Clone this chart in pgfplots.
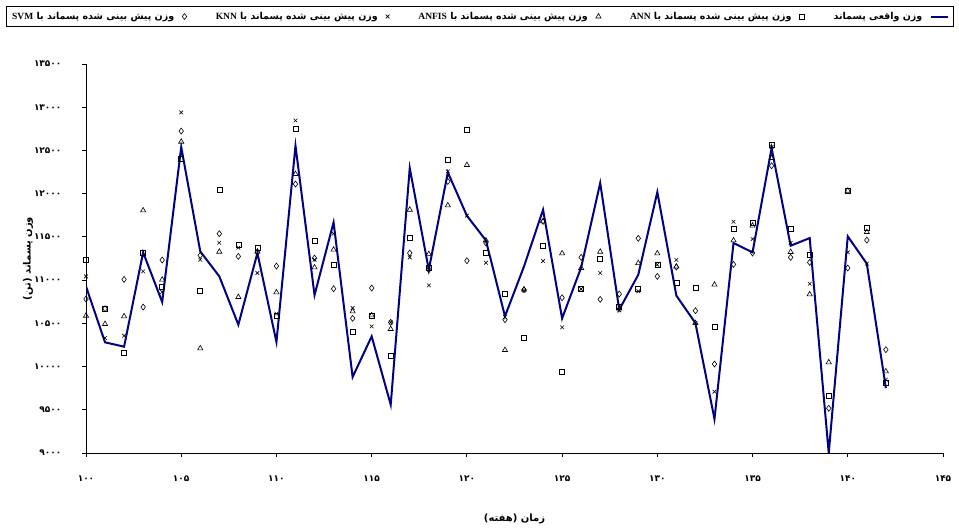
\documentclass[border=0pt]{standalone}
\usepackage{fontspec}
\usepackage{pgfplots}
\usepackage{pgfplotstable}
\pgfplotsset{compat=1.18}
\TeXXeTstate=1
\newfontfamily\fa[Script=Arabic]{DejaVu Sans}
\newfontfamily\fadig{DejaVu Sans}
\newfontfamily\lat{Liberation Serif}
\definecolor{navyline}{RGB}{0,0,128}

\pgfplotstableread{
w act ann anfis knn svm
100 10927 11232 10588 11043 10781
101 10280 10669 10492 10330 10669
102 10230 10160 10581 10357 11008
103 11321 11321 11806 11101 10688
104 10746 10927 11005 10862 11232
105 12539 12404 12601 12940 12724
106 11332 10877 10210 11236 11286
107 11043 12042 11328 11432 11537
108 10484 11405 10804 11375 11274
109 11313 11375 11330 11082 11320
110 10284 10588 10858 10611 11163
111 12554 12747 12227 12847 12111
112 10827 11456 11147 11236 11255
113 11668 11182 11352 11537 10900
114 9879 10403 10638 10677 10557
115 10349 10592 10592 10465 10908
116 9559 10122 10434 10511 10511
117 12296 11494 11814 11263 11313
118 11120 11147 11301 10939 11120
119 12246 12392 11864 12257 12142
120 11745 12735 12331 11745 11224
121 11459 11313 11459 11201 11430
122 10581 10839 10191 10573 10542
123 11159 10334 10889 10880 10889
124 11814 11402 11679 11220 11679
125 10557 9941 11309 10453 10796
126 11147 10897 11140 10897 11263
127 12123 11251 11328 11082 10777
128 10658 10688 10670 10650 10839
129 11062 10897 11197 10870 11483
130 12018 11178 11309 11178 11043
131 10820 10966 11157 11234 11150
132 10503 10908 10503 10503 10646
133 9393 10465 10947 9709 10029
134 11429 11594 11459 11675 11182
135 11321 11668 11630 11475 11313
136 12527 12562 12412 12540 12323
137 11398 11594 11325 11429 11263
138 11486 11294 10835 10958 11205
139 9000 9659 10049 nan 9517
140 11506 12034 12034 11321 11140
141 11190 11610 11556 11190 11463
142 9752 9810 9944 9848 10195
}\data

\newcommand{\legtxt}[1]{\fa\bfseries\beginR وزن پیش بینی شده پسماند با \beginL{\lat\bfseries #1}\endL\endR}

\begin{document}
\begin{tikzpicture}
\begin{axis}[
  at={(86pt,76pt)}, anchor=south west,
  scale only axis, width=857pt, height=389pt,
  xmin=100, xmax=145, ymin=9000, ymax=13500,
  scaled x ticks=false, scaled y ticks=false,
  axis lines*=left,
  axis line style={-, black, line width=0.9pt},
  tick align=outside,
  major tick length=4pt,
  tick style={black, line width=0.9pt},
  xtick={100,105,...,145},
  xticklabels={۱۰۰,۱۰۵,۱۱۰,۱۱۵,۱۲۰,۱۲۵,۱۳۰,۱۳۵,۱۴۰,۱۴۵},
  ytick={9000,9500,...,13500},
  yticklabels={۹۰۰۰,۹۵۰۰,۱۰۰۰۰,۱۰۵۰۰,۱۱۰۰۰,۱۱۵۰۰,۱۲۰۰۰,۱۲۵۰۰,۱۳۰۰۰,۱۳۵۰۰},
  ticklabel style={font=\fadig\bfseries\fontsize{9}{10}\selectfont},
  xticklabel style={yshift=-15pt},
  yticklabel style={xshift=-17pt},
  xlabel={\fa\bfseries\beginR زمان (هفته)\endR},
  ylabel={\fa\bfseries\beginR وزن پسماند (تن)\endR},
  label style={font=\fontsize{10}{12}\selectfont},
  every axis x label/.style={at={(axis description cs:0.5,-0.17)}, anchor=center},
  every axis y label/.style={at={(axis description cs:-0.0677,0.5)}, anchor=center, rotate=90},
  legend plot pos=right,
  legend columns=5,
  legend style={at={(axis description cs:0.4595,1.122)}, anchor=center,
    draw=black, line width=0.6pt, inner sep=3.5pt,
    font=\fontsize{9.5}{11}\selectfont,
    /tikz/every odd column/.append style={column sep=6pt},
    /tikz/every even column/.append style={column sep=27pt}},
  legend cell align=right,
]
\addplot[only marks, mark=diamond, mark size=3pt, mark options={black, line width=0.6pt, fill=white}] table[x=w,y=svm] {\data};
\addlegendentry{\legtxt{SVM}}
\addplot[only marks, mark=x, mark size=2.6pt, mark options={black, line width=0.6pt}] table[x=w,y=knn] {\data};
\addlegendentry{\legtxt{KNN}}
\addplot[only marks, mark=triangle, mark size=3pt, mark options={black, line width=0.6pt}] table[x=w,y=anfis] {\data};
\addlegendentry{\legtxt{ANFIS}}
\addplot[only marks, mark=square, mark size=2.5pt, mark options={black, line width=0.6pt}] table[x=w,y=ann] {\data};
\addlegendentry{\legtxt{ANN}}
\addplot[navyline, line width=2pt, mark=none] table[x=w,y=act] {\data};
\addlegendentry{\fa\bfseries\beginR وزن واقعی پسماند\endR}
\end{axis}
\pgfresetboundingbox
\path[use as bounding box] (0,0) rectangle (959pt,529pt);
\end{tikzpicture}
\end{document}
